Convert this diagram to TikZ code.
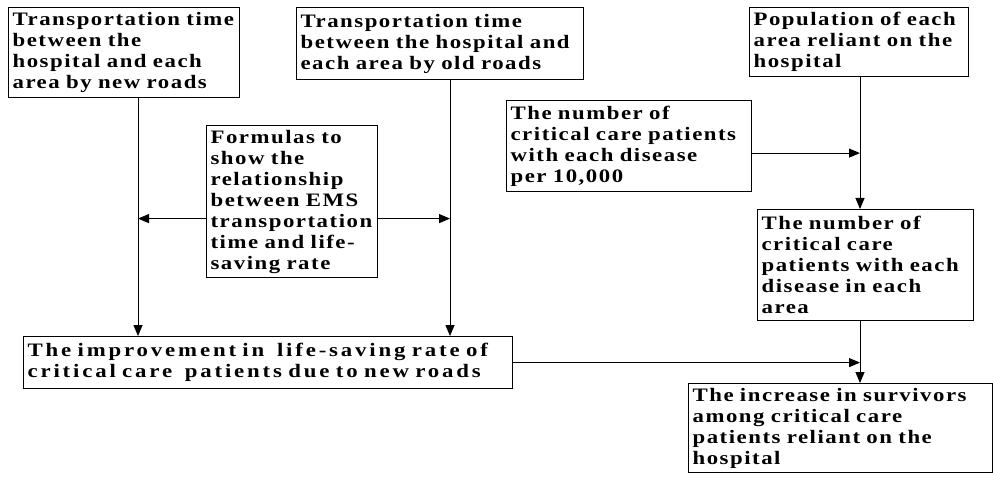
\documentclass[tikz,border=0pt]{standalone}
\usepackage{fontspec}
\newfontfamily\boxfont{Liberation Serif}[FakeStretch=1.2,LetterSpace=8]
\usetikzlibrary{arrows.meta,positioning}
\tikzset{
  infobox/.style={draw=black, line width=1.2pt, rectangle, anchor=north west, inner xsep=4pt, inner ysep=1pt, align=left, font=\boxfont\bfseries\fontsize{19}{21}\selectfont},
  feed/.style={-{Triangle[length=11pt,width=9pt]}, line width=1pt, draw=black}
}

\begin{document}
\begin{tikzpicture}[x=1pt, y=-1pt]
  \useasboundingbox (0,0) rectangle (993,478);
  \node[infobox, text width=223pt, minimum height=90pt] (newroad) at (8,7) {Transportation time\\between the\\hospital and each\\area by new roads};
  \node[infobox, text width=279pt, minimum height=72pt] (oldroad) at (296,7) {Transportation time\\between the hospital and\\each area by old roads};
  \node[infobox, text width=211pt, minimum height=69pt] (pop) at (749,7) {Population of each\\area reliant on the\\hospital};
  \node[infobox, text width=237pt, minimum height=91pt] (perten) at (506,100) {The number of\\critical care patients\\with each disease\\per 10,000};
  \node[infobox, text width=163pt, minimum height=152pt] (formula) at (206,125) {Formulas to\\show the\\relationship\\between EMS\\transportation\\time and life-\\saving rate};
  \node[infobox, text width=481pt, minimum height=52pt] (improve) at (23,336) {\addfontfeatures{LetterSpace=15}The improvement in \ life-saving rate of\\critical care \ patients due to new roads};
  \node[infobox, text width=208pt, minimum height=111pt] (critarea) at (757,209) {The number of\\critical care\\patients with each\\disease in each\\area};
  \node[infobox, text width=296pt, minimum height=89pt] (increase) at (688,383) {The increase in survivors\\among critical care\\patients reliant on the\\hospital};

  % bus lines
  \coordinate (leftbus) at (138,0);
  \coordinate (rightbus) at (450,0);
  \coordinate (hub) at (860,0);

  \draw[feed] (newroad.south -| leftbus) -- (improve.north -| leftbus);
  \draw[feed] (oldroad.south -| rightbus) -- (improve.north -| rightbus);
  \draw[feed] ([yshift=-17pt]formula.west) -- ([yshift=-17pt]formula.west -| leftbus);
  \draw[feed] ([yshift=-17pt]formula.east) -- ([yshift=-17pt]formula.east -| rightbus);
  \draw[feed] (pop.south -| hub) -- (critarea.north -| hub);
  \draw[feed] ([yshift=-7pt]perten.east) -- ([yshift=-7pt]perten.east -| hub);
  \draw[feed] (critarea.south -| hub) -- (increase.north -| hub);
  \draw[feed] (improve.east) -- (improve.east -| hub);
\end{tikzpicture}
\end{document}
